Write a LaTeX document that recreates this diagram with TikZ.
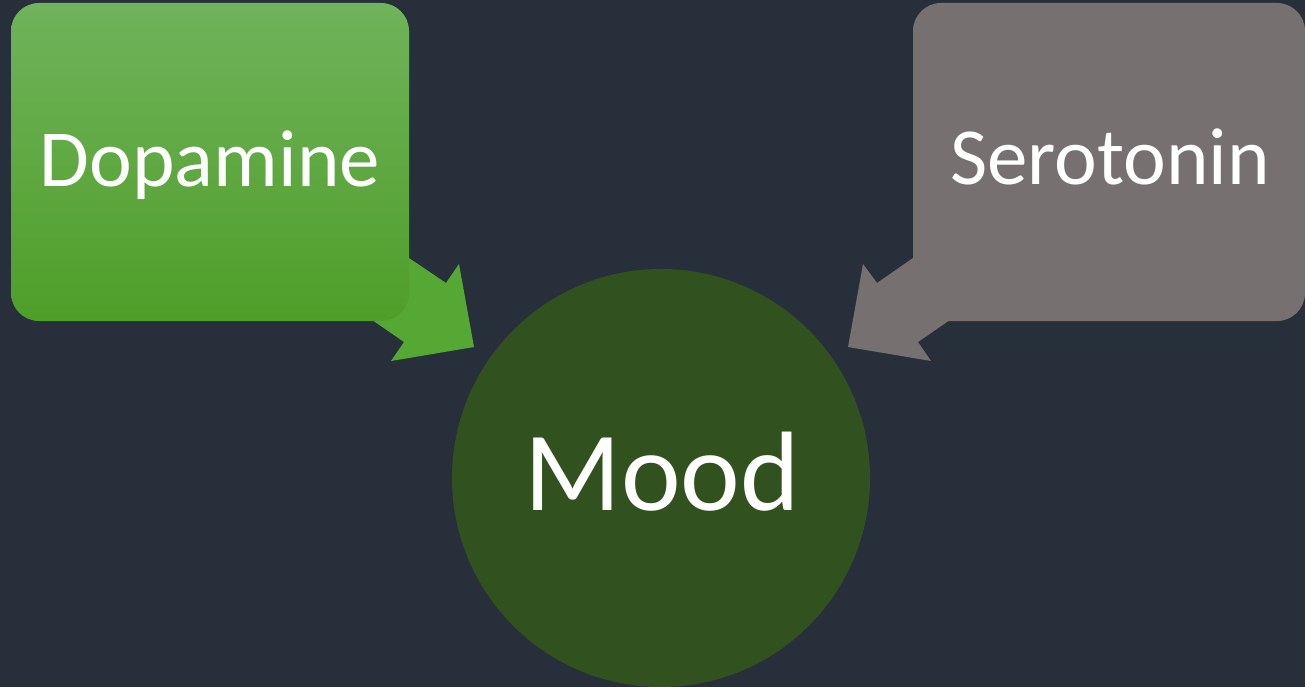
\documentclass[tikz,border=0pt]{standalone}
\usepackage{fontspec}
\setmainfont{Carlito}
\definecolor{bgdark}{HTML}{27303A}
\definecolor{greentop}{HTML}{70B35B}
\definecolor{greenbot}{HTML}{4F9E29}
\definecolor{greenarrow}{HTML}{55A833}
\definecolor{greybox}{HTML}{767170}
\definecolor{mooddark}{HTML}{31521E}
\tikzset{
  sourcebox/.style={rectangle, rounded corners=28pt, inner sep=0pt, outer sep=0pt},
  boxlabel/.style={text=white, anchor=base, inner sep=0pt, font=\fontsize{81}{96}\selectfont},
  moodlabel/.style={text=white, anchor=base, inner sep=0pt, font=\fontsize{113}{130}\selectfont},
}
\begin{document}
\begin{tikzpicture}[x=1pt, y=-1pt]
  % canvas
  \fill[bgdark] (0,0) rectangle (1305,687);
  \useasboundingbox (0,0) rectangle (1305,687);

  % central circle
  \node[circle, fill=mooddark, minimum size=418pt, inner sep=0pt] (mood) at (661,478) {};
  \node[moodlabel] (moodtext) at (662,510) {Mood};

  % block arrows, drawn beneath the boxes
  \coordinate (dtip) at (474,347);
  \coordinate (stip) at (848,347);
  \fill[greenarrow] (359,224) -- (409,258) -- (446,283) -- (459,264) -- (dtip)
     -- (391,361) -- (404,342) -- (375,322) -- (325,288) -- cycle;
  \fill[greybox] (963,224) -- (913,258) -- (877,283) -- (863,264) -- (stip)
     -- (931,361) -- (918,342) -- (947,322) -- (997,288) -- cycle;

  % source boxes
  \node[sourcebox, top color=greentop, bottom color=greenbot,
        minimum width=398pt, minimum height=318pt] (dopa) at (210,162) {};
  \node[boxlabel] (dopatext) at (210,186) {Dopamine};

  \node[sourcebox, fill=greybox,
        minimum width=392pt, minimum height=318pt] (sero) at (1109,162) {};
  \node[boxlabel] (serotext) at (1110,185) {Serotonin};
\end{tikzpicture}
\end{document}
